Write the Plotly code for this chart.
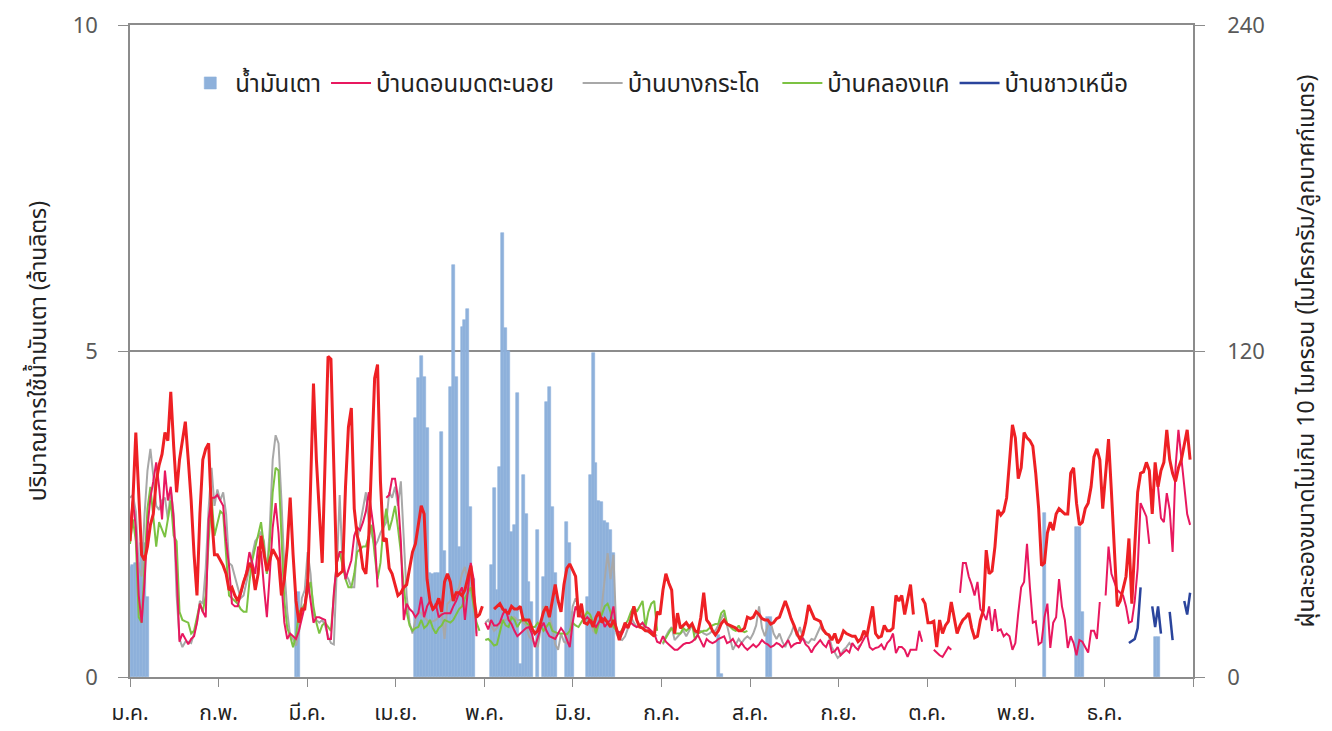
import plotly.graph_objects as go

# ---------------- data ----------------
months = ["ม.ค.", "ก.พ.", "มี.ค.", "เม.ย.", "พ.ค.", "มิ.ย.", "ก.ค.", "ส.ค.", "ก.ย.", "ต.ค.", "พ.ย.", "ธ.ค."]
month_pos = [0, 30.4, 60.8, 91.2, 121.7, 152.1, 182.5, 212.9, 243.3, 273.7, 304.2, 334.6, 365]

# daily fuel oil use (million litres), day-of-year index
bar_days = [0, 1, 2, 3, 4, 5, 6,
            57, 58,
            98, 99, 100, 101, 102, 103, 104, 105, 106, 107, 108, 109, 110, 111, 112, 113, 114, 115, 116, 117, 118,
            124, 125, 126, 127, 128, 129, 130, 131, 132, 133, 134, 135, 136, 137, 138,
            140, 142, 143, 144, 145, 146,
            150, 151, 152,
            157, 158, 159, 160, 161, 162, 163, 164, 165, 166,
            202, 203, 219, 220, 314, 325, 326, 327, 352, 353]
bar_vals = [1.68, 1.72, 1.75, 1.75, 2.05, 2.05, 1.22,
            1.3, 1.3,
            3.97, 4.58, 4.92, 4.6, 3.82, 1.6, 1.58, 1.6, 1.6, 3.76, 1.93, 1.5, 4.45, 6.32, 4.6, 2.0, 5.37, 5.48, 5.64, 2.61, 1.5,
            1.72, 2.9, 1.33, 3.22, 6.81, 5.35, 5.0, 2.22, 2.33, 4.35, 0.2, 3.1, 2.5, 1.45, 1.15,
            2.25, 1.53, 4.22, 4.45, 2.6, 1.6,
            2.38, 2.05, 1.0,
            1.23, 3.1, 4.97, 3.28, 2.7, 2.68, 2.4, 2.36, 2.25, 1.9,
            0.64, 0.05, 0.92, 0.92, 2.52, 2.3, 2.3, 1.0, 0.61, 0.61]

# PM10 (ug/m3), unlabelled red station, days 0..364
red = [50, 65, 90, 70, 45, 43, 48, 56, 60, 72,
       78, 82, 90, 87, 105, 85, 68, 80, 88, 94,
       80, 65, 45, 30, 60, 80, 84, 86, 60, 45,
       45, 43, 41, 38, 32, 33, 30, 28, 31, 35,
       38, 42, 40, 32, 38, 52, 45, 39, 43, 47,
       45, 43, 30, 36, 48, 66, 45, 28, 20, 25,
       25, 34, 70, 108, 80, 60, 42, 80, 118, 117,
       75, 37, 38, 39, 70, 92, 99, 62, 52, 48,
       40, 38, 52, 80, 110, 115, 72, 50, 51, 40,
       38, 34, 30, 31, 33, 34, 40, 46, 49, 56,
       63, 60, 36, 28, 25, 26, 29, 24, 35, 38,
       35, 28, 31, 31, 30, 32, 36, 41, 30, 22,
       23, 26, None, None, None, 25, 26, 27, 25, 24,
       23.5, 26, 25, 25, 26, 21, 21, 21, 18, 16,
       17, 20, 24, 26, 22, 28, 34, 28, 24, 34,
       40, 41.6, 39, 37, 22, 27, 20, 19.5, 21, 18.4,
       22, 24, 20, 21.5, 20, 18.4, 21, 18, 13.6, 17,
       20, 18, 21, 26, 21, 18.4, 18, 17, 17, 16,
       15, 24, 23, 32, 38, 34.6, 32, 16, 23.5, 18,
       19, 20, 18.4, 19.6, 17, 16.5, 22, 31, 21, 19.6,
       17, 15.5, 17, 19.6, 21, 19.5, 19, 18.4, 18, 17,
       17, 18, 22, 21.5, 22, 24, 23, 21.5, 21, 21,
       19.5, 20, 21.5, 22, 25, 28, 25, 21.5, 19, 16,
       14, 15.5, 20, 26.5, 24, 21.5, 21, 20.5, 17.5, 16,
       15.5, 13.6, 16, 12.5, 14, 17, 16, 15.5, 15, 15,
       13, 14, 17, 15, 20, 26, 16, 14.5, 15, 19,
       17, 17, 18, 30, 28, 30, 23, 28, 34, 23,
       None, None, 29, 27, 20, 20, 20.5, 11, 21, 16,
       19, 20.5, 27.6, 21, 16, 19, 21, 22, 23.5, 18,
       14.4, 15, 21, 24.5, 46.7, 38, 39, 48, 61.5, 59.6,
       61, 66, 80, 92.8, 88, 73, 77, 90, 88, 87,
       85, 75, 62, 41, 42, 53, 57, 54, 60, 62,
       61, 60, 60, 75, 77, 64, 56, 57, 62, 64,
       70, 81, 84, 80, 62, 74, 87.6, 68, 45, 26,
       28, 33, 37, 51, 27, 48, 68, 75, 75.5, 79,
       76, 60, 79, 70, 76, 79, 91, 80, 75, 72,
       77, 80, 85, 91, 80]

# บ้านดอนมดตะนอย, days 0..364
pink = [55, 65, 55, 30, 20, 35, 55, 66, 72, 79,
        70, 58, 76, 65, 70, 58, 38, 13, 16, 14,
        12, 14, 15, 20, 27, 24, 22, 58, 66, 66,
        67, 65, 63, 50, 41, 27, 26, 26, 30, 34,
        39, 46, 42, 38, 48, 46, 33, 22, 38, 55,
        64, 53, 35, 20, 14, 16, 15, 14, 17, 22,
        26, 36, 27, 20, 22, 22, 21.5, 21, 14, 14,
        31, 42, 46, 46, 36, 40, 43, 52, 55, 54,
        57, 61, 68, 60, 52, 33, None, None, 66, 67,
        73, 73, 66, 50, 21, 27, 25, 24, 22, 23.5,
        29.5, 22, 26, 28, 24.5, 27, 22, 23, 23.5, 23.5,
        23.5, 26, 28, 31, 33, 21, 33, 42, 36, 15,
        None, None, 20, 17.5, 21, 19, 19, 20, 23, 25,
        21, 19.5, 17, 15, 16, 17, 18, 18.4, 16, 11,
        15, 18, 20, 17, 15, 14.5, 14, 16, 18, 16.5,
        14, 11, 20, 26, 24, 22, 21, 22, 21, 20,
        18.4, 20, 22, 18.4, 20, 21, 26, 17, 16.5, 16,
        18.4, 19, 20, 19, 18.4, 19, 20, 18.4, 18, 17,
        16, 13, 12.5, 15, 13, 12, 11, 10, 10, 11,
        12, 12.5, 12.5, 13, 14, 15.5, 13, 11, 14, 13,
        12.5, 13, 14, 14.5, 15, 12.5, 13, 14, 12, 11,
        12.5, 11, 10, 11, 12, 11, 12, 13.6, 12.5, 12,
        11, 11.5, 12.5, 12, 11, 12, 13.6, 11, 12, 12.5,
        12.5, 14.4, 12, 11, 9, 11, 12.5, 13.6, 12, 11,
        13.6, 9, 9.5, 11, 8, 9, 10, 9, 12.5, 11,
        10, 12, 14, 16, 11, 10, 10.7, 11, 12, 10,
        12.5, 13.6, 16, 8.8, 11, 11, 10, 7.4, 10, 10,
        10, 17, 13, None, None, None, 10, 9, 8, 7.4,
        9, 11, 10, None, None, 31, 42, 42, 37, 34,
        30, 35, 25, 23.5, 21, 26, 17, 25, 17, 17.5,
        15, 16, 15, 10, 12.5, 23.5, 33, 35, 49, 33,
        20, 20.5, 12, 12.8, 22, 27, 10.7, 20, 22, 36,
        26, 21, 10.7, 15, 12.5, 8, 13.6, 13, 11, 9,
        17, 17, 14, 27.6, None, 30, 48, 38, 34.6, 32,
        31, 30, 26, 20, 20.5, 28, 40, 64, 61.5, 59,
        49, None, 77, 70, 58.5, 57, 67.7, 61.5, 46, 77,
        91, 80, 70, 60, 56]

# บ้านบางกระโด, days 0..251
gray = [66, 67, 61, 40, 37, 60, 76, 84, 74, 63,
        61.5, 65, 66, 58, 69, 60, 30, 14, 11, 13,
        13, 12.5, 16, 20, 28, 27, 40, 62, 77, 63,
        69, 65, 68, 60, 42, 41, 37, 33, 29, 30,
        35, 40, 45, 50, 51.5, 53.5, 50, 38, 55, 80,
        89, 86, 65, 40, 24, 15, 14, 11.6, 16, 29,
        32, 46, 38, 23, 21, 20, 21, 19, 15, 12.5,
        12, 40, 67, 41, 38, 36, 33, 33, 50, 56,
        62, 68, 57, 52, 48, 50, 53, 55, 57, 68,
        66, 70, 63, 72, 50, 30, 20, 16, 21, 24,
        23.5, 22, 21, 20, 20.5, 21, 22, 24, 14, 27,
        28, 29.5, 31, 33, 38, 40.5, 35, 33, 31, 16,
        None, None, 20, 21, 19, 17, 18, 20, 21, 21,
        22, 22, 22, 21, 21, 20, 19, 15, 13.6, 12.5,
        11, 18, 26, 25, 22, 18.4, 12, 10, 16, 13,
        12.5, 16, 26, 29, 26, 23, 20.5, 21, 22, 17,
        16, 20, 26, 36, 45.6, 36, 45, 16, 14, 13.6,
        15, 18, 22, 20, 18.4, 19, 20, 17, 16.5, 16,
        15, 15.5, None, 12, 15, 17, 18.4, 13.6, 15, 16,
        17, 15, 17, 19, 16, 16.5, 17, 16, 15.5, 16,
        17, 17, 19, 21.5, 23.5, 19, 15, 10, 12, 14,
        12.5, 14, 15, 14, 16, 19, 26, 18, 15, 19,
        20, 16, 14, 16, 13, 11, 14, 16, 19, 15,
        18.4, 14.4, 13, 12.5, 14, 13.6, 16, 18.4, 17, 16,
        15, 11, 8.8, 7, 8, 10, 11, 12.5, 11, None,
        11, 12]

# บ้านคลองแค, days 0..212
green = [49, 58, 50, 22, 20, 40, 62, 70, 60, 48,
         57, 54, 51.5, 58, 65, 52, 50, 24, 21, 20.5,
         20, 16, 17, 22, 27, 24, 30, 50, 66, 52,
         57, 61, 60, 46, 30, 29, 28, 27, 25, 24,
         24, 35, 43, 48, 52, 57, 48, 38, 50, 68,
         77, 76, 52, 28, 18, 15, 11, 15, 24, 25,
         27, 31, 35, 26, 20, 16, 19, 20, 18.4, 17,
         30, 42, 46, 41, 36, 33, 33, 38, 46, 47,
         48, 48, 52, 56, 45, 36, 42, 55, 62, 54,
         58, 63, 55, 46, 33, 24, 19, 17, 18, 18.4,
         21, 18, 19, 21, 18, 16, 18, 19, 21, 20.5,
         20, 21, 23, 25, 26, 29, 31, 33, 26, 20,
         17, None, 13.6, 14, 13, 11.6, 12, 16, 21, 19,
         18.4, 22, 21, 18.4, 20, 22, 20, 19, 18.4, 18.4,
         20, 19, 17, 18.5, 20, 17, 16.5, 16, 16, 16,
         15.7, 17, 20, 19, 18.4, 20, 22, 24, 23, 20,
         16, 20, 23, 26, 27, 24, 18.4, 17, 16, 17.5,
         19.5, 21, 24, 26, 24, 26, 28, 18.4, 24, 27,
         28, 17, None, 12.5, 14.5, 16, 18, 16, 16, 16,
         18, 17, 18, 19.6, 13.6, 16, 16.5, 17, 17, 18,
         19, 19.5, 19.6, 23.5, 24.6, 19.6, 18.4, 17.5, 17, 19,
         17, 16.5, 17]

# บ้านชาวเหนือ
blue_days = [343, 344, 345, 346, 347, 348, 351, 352, 353, 354, 355, 357, 358, 359, 362, 363, 364]
blue_vals = [12.5, 13.3, 14, 18, 33, None, 26, 18.4, 26, 16, None, 24, 13.6, None, 28, 23, 31]

# ---------------- figure ----------------
FONT = "Noto Sans Thai, Tahoma, Noto Sans, DejaVu Sans, sans-serif"
AX = "#8C8C8C"
BAR = "#8EB1DB"
NB = "\u00a0"

fig = go.Figure()
fig.add_trace(go.Bar(x=bar_days, y=bar_vals, name="น้ำมันเตา",
                     marker=dict(color=BAR, line=dict(width=0.6, color=BAR)),
                     yaxis="y", legendrank=1))
fig.add_trace(go.Scatter(x=list(range(len(gray))), y=gray, name="บ้านบางกระโด" + NB * 2, mode="lines",
                         line=dict(color="#A8A8A8", width=2), yaxis="y2", legendrank=3))
fig.add_trace(go.Scatter(x=list(range(len(green))), y=green, name="บ้านคลองแค", mode="lines",
                         line=dict(color="#7CC243", width=2), yaxis="y2", legendrank=4))
fig.add_trace(go.Scatter(x=list(range(len(pink))), y=pink, name="บ้านดอนมดตะนอย" + NB * 3, mode="lines",
                         line=dict(color="#E8185F", width=2), yaxis="y2", legendrank=2))
fig.add_trace(go.Scatter(x=blue_days, y=blue_vals, name="บ้านชาวเหนือ", mode="lines",
                         line=dict(color="#2A449C", width=2.5), yaxis="y2", legendrank=5))
fig.add_trace(go.Scatter(x=list(range(len(red))), y=red, name="สถานีตรวจวัด", mode="lines",
                         line=dict(color="#EE2024", width=3), yaxis="y2", showlegend=False))

# page body has an 8px margin, so plot-area margins are offset by 8px
fig.update_layout(
    width=1332, height=731,
    margin=dict(l=122, r=147, t=17, b=62, autoexpand=False),
    paper_bgcolor="white", plot_bgcolor="white",
    font=dict(family=FONT, size=20, color="#404040"),
    bargap=0,
    showlegend=True,
    legend=dict(orientation="h", x=0.052, y=0.945, xanchor="left", yanchor="top",
                font=dict(size=24, color="#222222"), bgcolor="rgba(0,0,0,0)",
                itemwidth=40, tracegroupgap=0),
    xaxis=dict(range=[0, 365], tickvals=month_pos, ticktext=months + [""], ticks="outside", ticklen=8,
               tickcolor=AX, showline=True, linecolor=AX, linewidth=1.5, showgrid=False, zeroline=False,
               mirror=True, automargin=False,
               tickfont=dict(size=21, color="#222222"), ticklabelstandoff=8),
    yaxis=dict(range=[0, 10], tickvals=[0, 5, 10], ticks="outside", ticklen=10, tickcolor=AX,
               showline=True, linecolor=AX, linewidth=1.5, showgrid=True, gridcolor=AX, gridwidth=1.5,
               zeroline=False, automargin=False, tickfont=dict(size=22, color="#595959"), ticklabelstandoff=16,
               title=dict(text="ปริมาณการใช้น้ำมันเตา (ล้านลิตร)", font=dict(size=23, color="#222222"), standoff=20)),
    yaxis2=dict(range=[0, 240], tickvals=[0, 120, 240], overlaying="y", side="right", ticks="outside",
                ticklen=10, tickcolor=AX, showline=True, linecolor=AX, linewidth=1.5, showgrid=False,
                zeroline=False, automargin=False, tickfont=dict(size=22, color="#595959"), ticklabelstandoff=18,
                title=dict(text="ฝุ่นละอองขนาดไม่เกิน 10 ไมครอน (ไมโครกรัม/ลูกบาศก์เมตร)",
                           font=dict(size=23, color="#222222"), standoff=34)),
)

fig.write_html("out.html")
